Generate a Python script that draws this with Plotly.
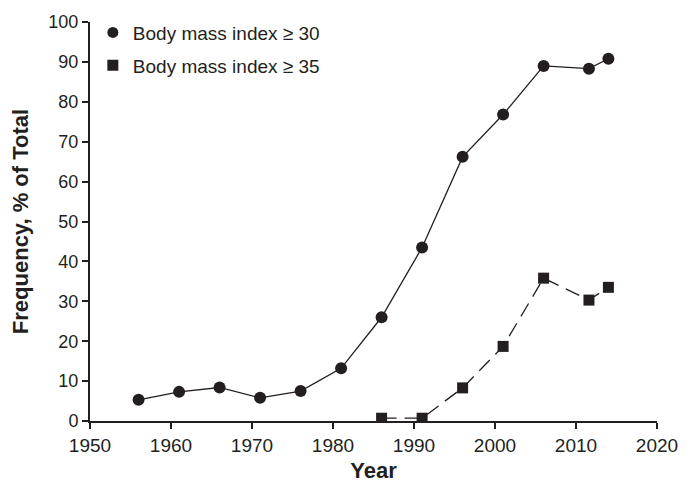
import plotly.graph_objects as go

INK = "#231F20"
FONT = "Liberation Sans, Arial"

years_30 = [1956, 1961, 1966, 1971, 1976, 1981, 1986, 1991, 1996, 2001, 2006, 2011.6, 2014]
bmi_30 = [5.3, 7.3, 8.4, 5.8, 7.5, 13.2, 26.0, 43.5, 66.2, 76.8, 89.0, 88.3, 90.8]

years_35 = [1986, 1991, 1996, 2001, 2006, 2011.6, 2014]
bmi_35 = [0.7, 0.7, 8.3, 18.7, 35.8, 30.3, 33.5]

fig = go.Figure()
fig.add_trace(go.Scatter(
    x=years_30, y=bmi_30, mode="lines+markers", showlegend=False,
    line=dict(color=INK, width=1.3),
    marker=dict(symbol="circle", size=12, color=INK),
))
fig.add_trace(go.Scatter(
    x=years_35, y=bmi_35, mode="lines+markers", showlegend=False,
    line=dict(color=INK, width=1.3, dash="15px,8px"),
    marker=dict(symbol="square", size=11, color=INK),
))
# legend entries: markers only, as in the original
fig.add_trace(go.Scatter(
    x=[None], y=[None], mode="markers", name="Body mass index \u2265 30", legendgroup="a",
    marker=dict(symbol="circle", size=11, color=INK),
))
fig.add_trace(go.Scatter(
    x=[None], y=[None], mode="markers", name="Body mass index \u2265 35", legendgroup="b",
    marker=dict(symbol="square", size=11, color=INK),
))

axis_common = dict(
    showline=True, linecolor=INK, linewidth=2, ticks="outside", ticklen=6,
    tickwidth=2, tickcolor=INK, showgrid=False, zeroline=False,
)
fig.update_layout(
    width=697, height=490,
    margin=dict(l=82, r=48, t=14, b=77, autoexpand=False),
    paper_bgcolor="white", plot_bgcolor="white",
    xaxis=dict(range=[1950, 2020], tickvals=list(range(1950, 2021, 10)),
               tickfont=dict(family=FONT, size=19, color=INK),
               title=dict(text="<b>Year</b>", font=dict(family=FONT, size=22, color=INK), standoff=8),
               **axis_common),
    yaxis=dict(range=[0, 100], tickvals=list(range(0, 101, 10)),
               tickfont=dict(family=FONT, size=18, color=INK),
               title=dict(text="<b>Frequency, % of Total</b>", font=dict(family=FONT, size=22, color=INK), standoff=16),
               **axis_common),
    legend=dict(x=0.005, y=1.021, xanchor="left", yanchor="top",
                bgcolor="rgba(0,0,0,0)",
                font=dict(family=FONT, size=19, color=INK),
                tracegroupgap=5, itemwidth=30),
)

fig.write_html("out.html")
